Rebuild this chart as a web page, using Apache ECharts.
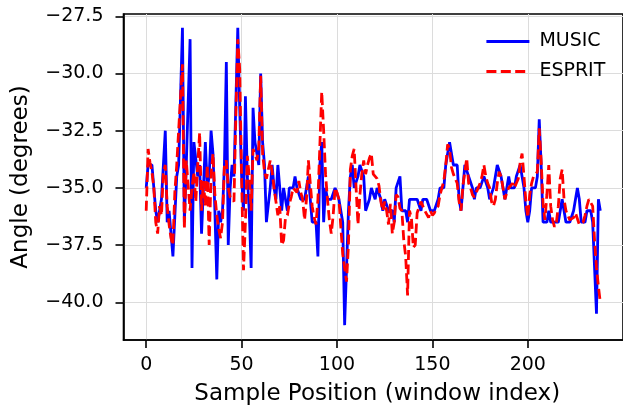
<!DOCTYPE html>
<html>
<head>
<meta charset="utf-8">
<script src="https://cdn.jsdelivr.net/npm/echarts@6/dist/echarts.min.js"></script>
<style>
html,body{margin:0;padding:0;background:#fff;}
#chart{width:623px;height:412px;}
</style>
</head>
<body>
<div id="chart"></div>
<script>
// MUSIC estimates (degrees), window index 0..238
const music = [
-35, -34, -34, -34, -35, -36, -36.5, -36, -35.5, -34,
-32.5, -36.5, -36, -37, -38, -38, -34.5, -34, -34, -28,
-36.5, -34, -34, -28.5, -38.5, -33, -33, -34.5, -34, -37,
-35, -33, -35, -34.5, -32.5, -33.5, -36, -39, -36, -36.5,
-36, -34, -29.5, -37.5, -35, -34, -34.5, -34.5, -28, -31.5,
-34.5, -36, -31, -34.5, -36, -38.5, -31.5, -33, -33.5, -34,
-30, -33, -34, -36.5, -36.5, -35, -34, -35, -35.5, -34,
-35, -36, -35, -35, -36, -35, -35, -35, -34.5, -35,
-35, -35.5, -35.5, -35.5, -35, -34.5, -35.5, -36.5, -36.5, -36.5,
-38, -34, -33, -36.5, -35, -35.5, -35.5, -35.5, -35.5, -35,
-35, -35.5, -36, -36.5, -41, -38.5, -36, -34.5, -34, -35,
-35, -34.5, -34, -34, -34.5, -36, -36, -35.5, -35, -35,
-35.5, -35, -35, -35.5, -36, -35.5, -35.5, -36, -36, -36,
-36.5, -35, -35, -34.5, -36, -36, -36, -36.5, -35.5, -35.5,
-35.5, -35.5, -35.5, -35.5, -36, -35.5, -35.5, -35.5, -35.5, -36,
-36, -36, -36, -35.5, -35, -35, -35, -34, -33.5, -33,
-33, -34, -34, -34, -35.5, -36, -35, -34, -34, -34.5,
-34.5, -35, -35.5, -35, -35, -35, -35, -34.5, -34.5, -35,
-35.5, -35.5, -35, -34.5, -34, -34, -34.5, -35, -35.5, -35,
-34.5, -35, -35, -35, -34.5, -34.5, -34, -34.5, -35, -36,
-36.5, -36, -35, -35, -35, -34.5, -32, -34, -36.5, -36.5,
-36.5, -36, -36.5, -36.5, -36.5, -36.5, -36.5, -36, -35.5, -36,
-36.5, -36.5, -36.5, -36.5, -36, -35.5, -35, -35.5, -36.5, -36.5,
-36.5, -36, -36, -36, -36.5, -38.5, -40.5, -35.5, -36
];

// ESPRIT estimates (degrees)
const esprit = [
-36.0, -33.3, -33.9, -34.3, -35.0, -36.5, -37.0, -35.8, -36.2, -34.3,
-34.0, -35.8, -36.6, -37.2, -37.5, -35.2, -34.0, -32.5, -31.0, -29.6,
-36.8, -33.8, -33.8, -36.0, -35.0, -34.3, -35.6, -34.0, -32.6, -36.0,
-34.7, -35.8, -34.0, -37.5, -34.4, -33.5, -35.3, -36.2, -36.8, -37.2,
-36.5, -34.0, -33.8, -35.0, -35.4, -35.5, -35.6, -31.8, -28.5, -29.8,
-34.5, -38.6, -36.5, -33.6, -34.5, -36.0, -33.3, -33.5, -33.8, -33.2,
-30.1, -33.5, -34.3, -34.6, -34.2, -33.8, -34.3, -35.0, -35.6, -36.2,
-35.8, -37.5, -37.3, -36.3, -36.2, -35.7, -35.4, -35.0, -35.0, -35.2,
-34.7, -35.2, -35.5, -36.4, -35.5, -33.8, -34.8, -35.8, -36.3, -36.6,
-35.5, -33.2, -30.8, -32.5, -34.4, -35.5, -36.4, -37.0, -36.2, -35.0,
-35.2, -35.5, -36.7, -37.9, -38.5, -39.1, -37.5, -34.2, -33.6, -33.3,
-35.0, -36.6, -35.3, -34.4, -33.8, -34.4, -34.0, -33.7, -33.5, -34.4,
-34.5, -34.6, -34.9, -35.6, -36.0, -35.6, -36.0, -36.6, -35.7, -37.0,
-36.5, -35.3, -35.4, -35.9, -36.0, -37.3, -38.0, -39.7, -36.0, -36.3,
-37.6, -37.5, -36.1, -36.1, -35.6, -35.6, -36.0, -36.0, -36.3, -36.0,
-36.2, -36.1, -35.9, -35.8, -35.3, -35.0, -34.7, -34.0, -33.1, -33.3,
-34.1, -34.4, -34.6, -34.8, -35.6, -36.0, -34.9, -34.3, -33.7, -34.8,
-35.0, -35.3, -35.4, -35.2, -35.0, -34.8, -34.5, -34.0, -34.5, -34.8,
-35.0, -35.6, -35.8, -35.5, -34.8, -34.3, -34.5, -35.0, -35.5, -35.2,
-35.0, -34.9, -34.8, -35.0, -35.0, -34.6, -33.9, -33.5, -34.5, -35.6,
-36.3, -35.3, -34.8, -34.5, -34.5, -34.3, -32.4, -33.8, -35.7, -36.4,
-35.3, -34.0, -35.8, -36.4, -36.7, -36.5, -35.8, -34.6, -34.2, -35.5,
-36.0, -36.2, -36.4, -36.4, -36.3, -36.1, -36.1, -36.6, -36.6, -36.5,
-36.2, -35.8, -35.5, -35.5, -35.8, -37.3, -38.5, -39.3, -40.0
];

const seriesNames = ['MUSIC', 'ESPRIT'];
const xTicks = [0, 50, 100, 150, 200];
const yTicks = [-40, -37.5, -35, -32.5, -30, -27.5];

const toPairs = arr => arr.map((v, i) => [i, v]);
const FONT = 'DejaVu Sans';

const chart = echarts.init(document.getElementById('chart'), null, {renderer: 'canvas'});
chart.setOption({
  animation: false,
  backgroundColor: '#ffffff',
  textStyle: {fontFamily: FONT},
  grid: {
    left: 123.5, top: 14, width: 503, height: 326,
    show: true, borderColor: '#000', borderWidth: 1.6, backgroundColor: 'transparent'
  },
  xAxis: {
    type: 'value', min: -11.9, max: 249.9,
    name: 'Sample Position (window index)', nameLocation: 'middle', nameGap: 43,
    nameTextStyle: {fontSize: 23, color: '#000', fontFamily: FONT, padding: [0, 0, 0, 8]},
    axisLine: {show: true, onZero: false, lineStyle: {color: '#000', width: 1.6}},
    axisTick: {show: true, length: 8, customValues: xTicks, lineStyle: {color: '#000', width: 1.6}},
    axisLabel: {customValues: xTicks, fontSize: 19, color: '#000', margin: 16, fontFamily: FONT},
    splitLine: {show: true, lineStyle: {color: '#dcdcdc', width: 1}}
  },
  yAxis: {
    type: 'value', min: -41.65, max: -27.4,
    name: 'Angle (degrees)', nameLocation: 'middle', nameGap: 91,
    nameTextStyle: {fontSize: 23, color: '#000', fontFamily: FONT},
    axisLine: {show: true, onZero: false, lineStyle: {color: '#000', width: 1.6}},
    axisTick: {show: true, length: 8, customValues: yTicks, lineStyle: {color: '#000', width: 1.6}},
    axisLabel: {
      customValues: yTicks, fontSize: 19, color: '#000', margin: 20, fontFamily: FONT,
      formatter: v => (v < 0 ? '\u2212' : '') + Math.abs(v).toFixed(1)
    },
    splitLine: {show: true, lineStyle: {color: '#dcdcdc', width: 1}}
  },
  legend: {
    data: seriesNames,
    orient: 'vertical', left: 480, top: 27,
    itemWidth: 43, itemHeight: 20, itemGap: 11,
    itemStyle: {color: 'transparent', borderColor: 'transparent', borderWidth: 0},
    lineStyle: {width: 2.8},
    textStyle: {fontSize: 19, color: '#000', fontFamily: FONT, padding: [0, 0, 0, 5]}
  },
  series: [
    {
      name: seriesNames[0], type: 'line', data: toPairs(music),
      symbol: 'none', showSymbol: false,
      lineStyle: {color: '#0000ff', width: 2.8},
      itemStyle: {color: '#0000ff'}
    },
    {
      name: seriesNames[1], type: 'line', data: toPairs(esprit),
      symbol: 'none', showSymbol: false,
      lineStyle: {color: '#ff0000', width: 2.8, type: [10, 4.4]},
      itemStyle: {color: '#ff0000'}
    }
  ]
});
</script>
</body>
</html>
